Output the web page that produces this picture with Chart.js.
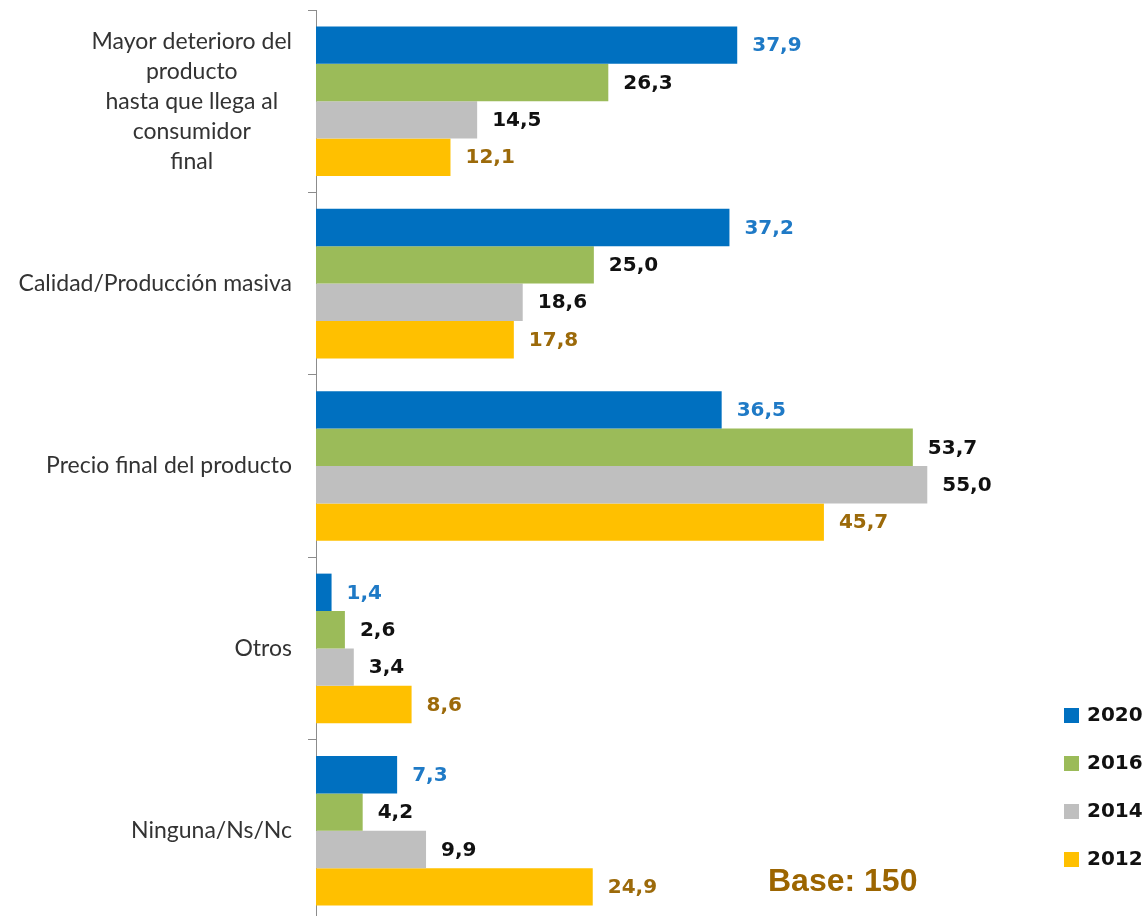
<!DOCTYPE html>
<html>
<head>
<meta charset="utf-8">
<script src="https://cdn.jsdelivr.net/npm/chart.js@4"></script>
<style>
    html, body { margin: 0; padding: 0; background: #fff; overflow: hidden; }
    #wrap { width: 1147px; height: 925px; position: relative; }
</style>
</head>
<body>
<div id="wrap"><canvas id="myChart"></canvas></div>
<script>
// categorias y valores (%)
const categorias = [
    ['Mayor deterioro del', 'producto', 'hasta que llega al', 'consumidor', 'final'],
    'Calidad/Producción masiva',
    'Precio final del producto',
    'Otros',
    'Ninguna/Ns/Nc'
];
const anios = ['2020', '2016', '2014', '2012'];
const v2020 = [37.9, 37.2, 36.5, 1.4, 7.3];
const v2016 = [26.3, 25.0, 53.7, 2.6, 4.2];
const v2014 = [14.5, 18.6, 55.0, 3.4, 9.9];
const v2012 = [12.1, 17.8, 45.7, 8.6, 24.9];
const baseTexto = 'Base: 150';

const colores = ['#0070C0', '#9BBB59', '#BFBFBF', '#FFC000'];
const coloresEtiqueta = ['#1F7AC6', '#111111', '#111111', '#9C6A0A'];

// etiquetas de valor al final de cada barra
const etiquetasValor = {
    id: 'etiquetasValor',
    afterDatasetsDraw(chart) {
        let ctx = chart.ctx;
        ctx.save();
        ctx.font = 'bold 20px "DejaVu Sans"';
        ctx.textAlign = 'left';
        ctx.textBaseline = 'middle';
        chart.data.datasets.forEach((ds, i) => {
            let meta = chart.getDatasetMeta(i);
            ctx.fillStyle = coloresEtiqueta[i];
            meta.data.forEach((bar, j) => {
                let txt = ds.data[j].toFixed(1).replace('.', ',');
                ctx.fillText(txt, bar.x + 15, bar.y + 1);
            });
        });
        ctx.restore();
    }
};

// categorias del eje y (bloques centrados, alineados a la derecha)
const etiquetasEje = {
    id: 'etiquetasEje',
    afterDraw(chart) {
        let ctx = chart.ctx;
        let yScale = chart.scales.y;
        let derecha = yScale.right - 24;
        ctx.save();
        ctx.font = '23px Lato';
        ctx.fillStyle = '#333333';
        ctx.textAlign = 'center';
        ctx.textBaseline = 'middle';
        chart.data.labels.forEach((lab, i) => {
            let lineas = Array.isArray(lab) ? lab : [lab];
            let ancho = Math.max(...lineas.map(l => ctx.measureText(l).width));
            let cx = derecha - ancho / 2;
            let y = yScale.getPixelForTick(i);
            let alto = 30;
            lineas.forEach((l, k) => {
                ctx.fillText(l, cx, y - (lineas.length - 1) * alto / 2 + k * alto);
            });
        });
        ctx.restore();
    }
};

// leyenda vertical + texto de base
const leyenda = {
    id: 'leyenda',
    afterDraw(chart) {
        let ctx = chart.ctx;
        ctx.save();
        ctx.font = 'bold 20px "DejaVu Sans"';
        ctx.textAlign = 'left';
        ctx.textBaseline = 'middle';
        chart.data.datasets.forEach((ds, i) => {
            let y = 716 + i * 48;
            ctx.fillStyle = ds.backgroundColor;
            ctx.fillRect(1064, y - 8, 15, 15);
            ctx.fillStyle = '#111111';
            ctx.fillText(ds.label, 1087, y);
        });
        ctx.font = 'bold 32px "Liberation Sans"';
        ctx.fillStyle = '#9C6500';
        ctx.fillText(baseTexto, 768, 882);
        ctx.restore();
    }
};

function createChart() {
    let ctx = document.getElementById('myChart').getContext('2d');
    let series = [v2020, v2016, v2014, v2012];
    let chart = new Chart(ctx, {
        type: 'bar',
        data: {
            labels: categorias,
            datasets: anios.map((a, i) => ({
                label: a,
                data: series[i],
                backgroundColor: colores[i],
                borderWidth: 0,
                categoryPercentage: 0.82,
                barPercentage: 1.0
            }))
        },
        options: {
            indexAxis: 'y',
            responsive: true,
            maintainAspectRatio: false,
            animation: false,
            layout: { padding: { top: 10, bottom: 3, left: 0, right: 53 } },
            plugins: {
                legend: { display: false },
                tooltip: { enabled: false }
            },
            scales: {
                x: {
                    display: false,
                    min: 0,
                    max: 70
                },
                y: {
                    afterFit(scale) { scale.width = 316; },
                    ticks: { display: false },
                    grid: {
                        drawOnChartArea: false,
                        drawTicks: true,
                        tickLength: 8,
                        color: '#8c8c8c',
                        offset: true
                    },
                    border: { display: true, color: '#8c8c8c', width: 1 }
                }
            }
        },
        plugins: [etiquetasValor, etiquetasEje, leyenda]
    });
}

createChart();
</script>
</body>
</html>
